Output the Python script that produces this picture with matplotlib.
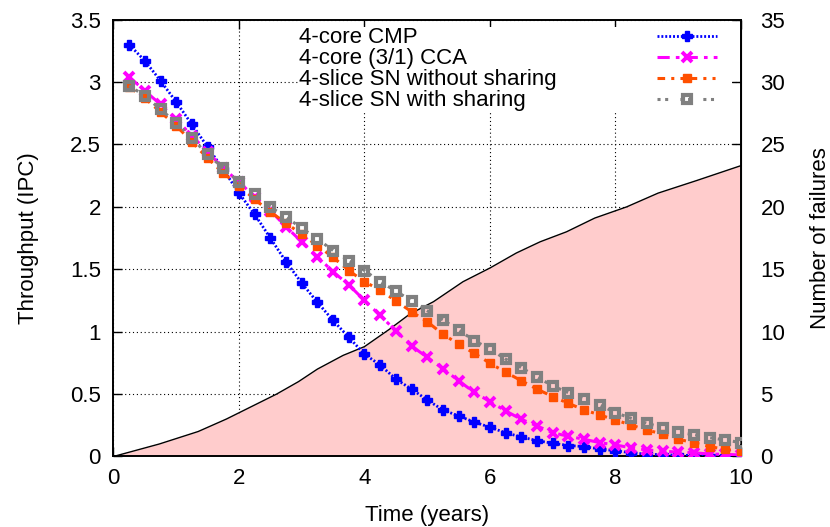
import numpy as np
import matplotlib
matplotlib.use("Agg")
import matplotlib.pyplot as plt
from matplotlib.lines import Line2D

plt.rcParams['font.family'] = ['Liberation Sans', 'DejaVu Sans']
plt.rcParams['font.size'] = 16

# time axis (years), one sample every quarter year
years = [0.25, 0.5, 0.75, 1.0, 1.25, 1.5, 1.75, 2.0, 2.25, 2.5,
         2.75, 3.0, 3.25, 3.5, 3.75, 4.0, 4.25, 4.5, 4.75, 5.0,
         5.25, 5.5, 5.75, 6.0, 6.25, 6.5, 6.75, 7.0, 7.25, 7.5,
         7.75, 8.0, 8.25, 8.5, 8.75, 9.0, 9.25, 9.5, 9.75, 10.0]

cmp_ipc = [3.30, 3.17, 3.01, 2.84, 2.66, 2.48, 2.30, 2.11, 1.94, 1.75,
           1.56, 1.39, 1.235, 1.09, 0.955, 0.82, 0.733, 0.62, 0.54, 0.453,
           0.373, 0.325, 0.276, 0.234, 0.19, 0.156, 0.127, 0.106, 0.088, 0.079,
           0.06, 0.046, 0.03, 0.018, 0.015, 0.01, 0.008, 0.005, 0.003, 0.0]

cca_ipc = [3.04, 2.93, 2.82, 2.70, 2.57, 2.44, 2.31, 2.20, 2.08, 1.97,
           1.84, 1.72, 1.60, 1.48, 1.375, 1.25, 1.13, 1.007, 0.885, 0.795,
           0.704, 0.607, 0.514, 0.44, 0.365, 0.298, 0.245, 0.19, 0.162, 0.138,
           0.111, 0.092, 0.07, 0.052, 0.044, 0.034, 0.03, 0.02, 0.017, 0.012]

sn_noshare = [2.96, 2.87, 2.76, 2.65, 2.52, 2.39, 2.27, 2.17, 2.06, 1.96,
              1.87, 1.78, 1.69, 1.596, 1.49, 1.40, 1.334, 1.246, 1.16, 1.08,
              0.98, 0.90, 0.827, 0.747, 0.675, 0.607, 0.54, 0.48, 0.426, 0.373,
              0.333, 0.292, 0.252, 0.212, 0.18, 0.138, 0.111, 0.079, 0.058, 0.04]

sn_share = [2.97, 2.89, 2.78, 2.675, 2.55, 2.42, 2.31, 2.20, 2.10, 2.00,
            1.917, 1.83, 1.743, 1.65, 1.57, 1.49, 1.40, 1.326, 1.246, 1.168,
            1.094, 1.014, 0.928, 0.861, 0.78, 0.712, 0.637, 0.565, 0.511, 0.458,
            0.413, 0.351, 0.306, 0.266, 0.231, 0.194, 0.175, 0.151, 0.132, 0.111]

# number of failures (right axis)
fail_t = [0.0, 0.73, 1.35, 1.8, 2.2, 2.6, 2.95, 3.25, 3.66, 4.0, 4.4, 4.72,
          5.1, 5.57, 6.0, 6.42, 6.8, 7.22, 7.67, 8.18, 8.68, 9.29, 10.0]
fail_n = [0.0, 1.0, 2.0, 3.0, 4.0, 5.0, 6.0, 7.0, 8.1, 8.8, 10.2, 11.4,
          12.4, 14.0, 15.1, 16.3, 17.2, 18.0, 19.1, 20.0, 21.1, 22.1, 23.3]

labels = ['4-core CMP', '4-core (3/1) CCA',
          '4-slice SN without sharing', '4-slice SN with sharing']

fig = plt.figure(figsize=(8.3, 5.27), dpi=100)
ax = fig.add_axes([0.1367, 0.1338, 0.756, 0.829])

# failures on a /10 scale so they share the left axis
fail_scaled = np.array(fail_n) / 10.0
ax.fill_between(fail_t, fail_scaled, color='#ffcccc', lw=0, zorder=1)
ax.plot(fail_t, fail_scaled, color='black', lw=1, zorder=1.1)

h1, = ax.plot(years, cmp_ipc, color='#0000ff', lw=2, linestyle=(0, (0.7, 0.7)),
              marker='P', markersize=6.5, zorder=3)
h2, = ax.plot(years, cca_ipc, color='#ff00ff', lw=2.2, linestyle=(0, (4, 2, 1.2, 2)),
              marker='x', markersize=6.5, markeredgewidth=2.8, zorder=4)
h3, = ax.plot(years, sn_noshare, color='#ff5000', lw=2.2, linestyle=(0, (2.5, 2, 1, 2, 1, 2)),
              marker='s', markersize=6, zorder=5)
h4, = ax.plot(years, sn_share, color='#808080', lw=2.2, linestyle=(0, (1, 1.5, 1, 4)),
              marker='s', markersize=6, markerfacecolor='none',
              markeredgecolor='#808080', markeredgewidth=3, zorder=6)

ax.set_xlim(0, 10)
ax.set_ylim(0, 3.5)
ax.set_xticks([0, 2, 4, 6, 8, 10])
ax.set_yticks([0, 0.5, 1, 1.5, 2, 2.5, 3, 3.5])
ax.set_yticklabels(['0', '0.5', '1', '1.5', '2', '2.5', '3', '3.5'])
ax.tick_params(direction='in', length=6.5, width=1, top=True, right=False)
ax.tick_params(axis='x', pad=8)
ax.tick_params(axis='y', pad=9)
ax.set_axisbelow(True)
ax.grid(True, color='black', linestyle=(0, (1, 2.5)), lw=0.8)
for s in ax.spines.values():
    s.set_linewidth(1.4)

ax.set_xlabel('Time (years)', labelpad=12)
ax.set_ylabel('Throughput (IPC)', labelpad=22)

sec = ax.secondary_yaxis('right', functions=(lambda v: v * 10, lambda v: v / 10))
sec.set_yticks([0, 5, 10, 15, 20, 25, 30, 35])
sec.tick_params(direction='in', length=6.5, width=1, pad=14)
sec.set_ylabel('Number of failures', labelpad=18)

# gnuplot-style key: left-aligned text on an opaque white box, samples at the right
blank = [Line2D([], [], lw=0) for _ in labels]
leg1 = ax.legend(blank, labels, loc='upper left', bbox_to_anchor=(0.296, 0.782, 0.69, 0.2),
                 mode='expand', frameon=True, facecolor='white', edgecolor='none',
                 framealpha=1, fancybox=False, handlelength=0, handletextpad=0,
                 labelspacing=0.0, borderpad=0, borderaxespad=0)
ax.add_artist(leg1)
ax.legend([h1, h2, h3, h4], [' '] * 4, loc='upper left', bbox_to_anchor=(0.867, 0.982),
          frameon=False, handlelength=2.7, handletextpad=0,
          labelspacing=0.0, borderpad=0, borderaxespad=0)

fig.savefig('out.png', dpi=100)
